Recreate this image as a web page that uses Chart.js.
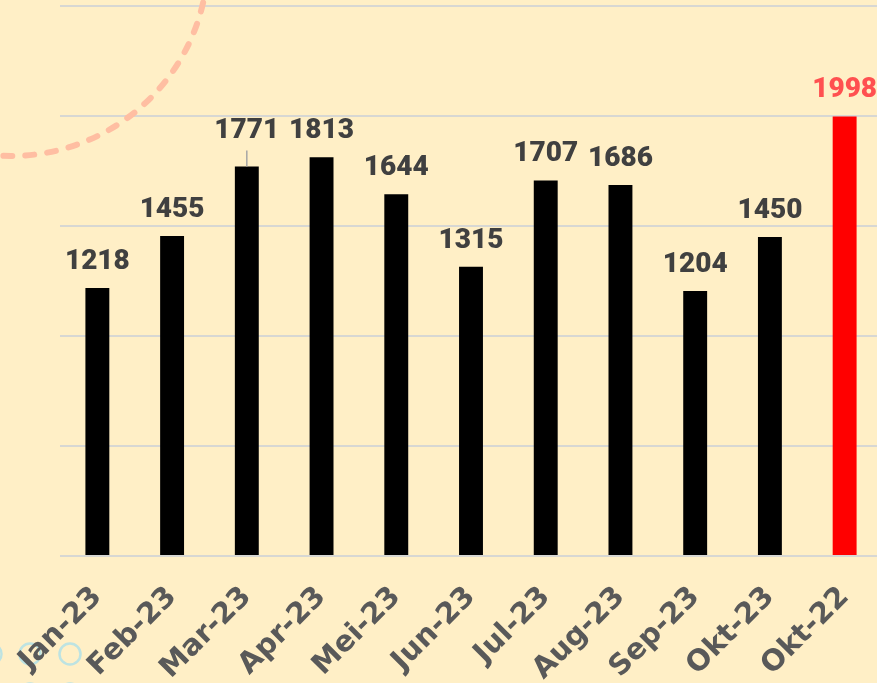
<!DOCTYPE html>
<html>
<head>
<meta charset="utf-8">
<script src="https://cdn.jsdelivr.net/npm/chart.js@4.4.0/dist/chart.umd.min.js"></script>
<style>
  html, body { margin: 0; padding: 0; background: #FFEFC6; overflow: hidden; }
  #wrap { position: relative; width: 882px; height: 683px; }
</style>
</head>
<body>
<div id="wrap"><canvas id="monthlyChart"></canvas></div>
<script>
const months = ['Jan-23', 'Feb-23', 'Mar-23', 'Apr-23', 'Mei-23', 'Jun-23', 'Jul-23', 'Aug-23', 'Sep-23', 'Okt-23', 'Okt-22'];
const totals = [1218, 1455, 1771, 1813, 1644, 1315, 1707, 1686, 1204, 1450, 1998];
const barColors = ['#000000', '#000000', '#000000', '#000000', '#000000', '#000000', '#000000', '#000000', '#000000', '#000000', '#FF0000'];
const labelColors = ['#404040', '#404040', '#404040', '#404040', '#404040', '#404040', '#404040', '#404040', '#404040', '#404040', '#FF5050'];
const yTicks = [0, 500, 1000, 1500, 2000, 2500];

// background + decorative circles (behind axes)
const backdrop = {
  id: 'backdrop',
  beforeDraw(chart) {
    const ctx = chart.ctx;
    ctx.save();
    ctx.fillStyle = '#FFEFC6';
    ctx.fillRect(0, 0, chart.width, chart.height);
    ctx.strokeStyle = '#BDE3E2';
    ctx.lineWidth = 2.5;
    [[-9, 654], [30, 654], [70, 654], [30, 694], [70, 694]].forEach(([cx, cy]) => {
      ctx.beginPath();
      ctx.arc(cx, cy, 10.5, 0, Math.PI * 2);
      ctx.stroke();
    });
    ctx.restore();
  },
  beforeDatasetsDraw(chart) {
    const ctx = chart.ctx;
    ctx.save();
    ctx.strokeStyle = '#FFBEA2';
    ctx.lineWidth = 6;
    ctx.lineCap = 'round';
    ctx.setLineDash([9, 13]);
    ctx.beginPath();
    ctx.arc(11, -41, 197, 0, Math.PI);
    ctx.stroke();
    ctx.restore();
  }
};

// numbers above the bars
const valueLabels = {
  id: 'valueLabels',
  afterDatasetsDraw(chart, args, opts) {
    const ctx = chart.ctx;
    const meta = chart.getDatasetMeta(0);
    ctx.save();
    ctx.font = '900 28px Roboto';
    ctx.textAlign = 'center';
    ctx.textBaseline = 'alphabetic';
    meta.data.forEach((bar, i) => {
      const lift = opts.lift[i] || 0;
      if (lift) {
        ctx.strokeStyle = '#A6A6A6';
        ctx.lineWidth = 1.5;
        ctx.beginPath();
        ctx.moveTo(bar.x, bar.y);
        ctx.lineTo(bar.x, bar.y - opts.gap - lift + 12);
        ctx.stroke();
      }
      ctx.fillStyle = labelColors[i];
      ctx.fillText(String(totals[i]), bar.x, bar.y - opts.gap - lift);
    });
    ctx.restore();
  }
};

new Chart('monthlyChart', {
  type: 'bar',
  data: {
    labels: months,
    datasets: [{
      data: totals,
      backgroundColor: barColors,
      barPercentage: 0.32,
      categoryPercentage: 1
    }]
  },
  options: {
    responsive: true,
    maintainAspectRatio: false,
    animation: false,
    layout: { padding: { top: 6, left: 0, right: 0, bottom: 0 } },
    plugins: {
      legend: { display: false },
      tooltip: { enabled: false },
      valueLabels: { gap: 19, lift: { 2: 9 } }
    },
    scales: {
      y: {
        min: yTicks[0],
        max: yTicks[yTicks.length - 1],
        afterBuildTicks(scale) { scale.ticks = yTicks.map(v => ({ value: v })); },
        afterFit(scale) { scale.width = 60; },
        ticks: { display: false },
        border: { display: false },
        grid: { color: '#D7D7D3', lineWidth: 2, drawTicks: false }
      },
      x: {
        afterFit(scale) {
          scale.height = 127;
          scale.paddingLeft = 0;
          scale.paddingRight = 0;
        },
        border: { display: false },
        grid: { display: false },
        ticks: {
          autoSkip: false,
          minRotation: 45,
          maxRotation: 45,
          padding: 16,
          color: '#595959',
          font: { family: 'DejaVu Sans', weight: 'bold', size: 29 }
        }
      }
    }
  },
  plugins: [backdrop, valueLabels]
});
</script>
</body>
</html>
